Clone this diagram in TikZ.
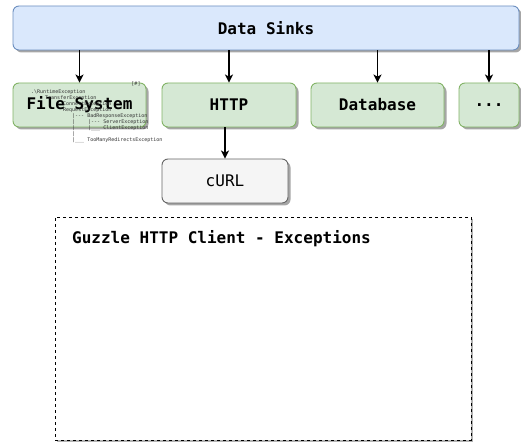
\documentclass[tikz,border=0pt]{standalone}
\usepackage{fontspec}
\newfontfamily\diagfont{DejaVu Sans Mono}
\usetikzlibrary{arrows.meta, positioning, shadows}

\definecolor{sinkfill}{HTML}{DAE8FC}
\definecolor{sinkline}{HTML}{6C8EBF}
\definecolor{kindfill}{HTML}{D5E8D4}
\definecolor{kindline}{HTML}{82B366}
\definecolor{curlfill}{HTML}{F5F5F5}
\definecolor{curlline}{HTML}{666666}

\begin{document}
\begin{tikzpicture}[
    x=1pt, y=-1pt,
    box/.style={rectangle, rounded corners=6pt, line width=0.9pt, minimum height=44pt,
        font=\diagfont\bfseries\fontsize{16}{18}\selectfont,
        drop shadow={shadow xshift=2.5pt, shadow yshift=-2.5pt, opacity=1, fill=black!35}},
    sink/.style={box, draw=sinkline, fill=sinkfill},
    kind/.style={box, draw=kindline, fill=kindfill},
    client/.style={box, draw=curlline, fill=curlfill, font=\diagfont\fontsize{16}{18}\selectfont},
    feed/.style={-{Stealth[length=8pt, width=8pt, inset=2pt]}, line width=1.3pt}
]
    \useasboundingbox (0,0) rectangle (521,443);

    \node[sink, minimum width=506pt] (sinks) at (266, 28) {Data Sinks};

    \node[kind, minimum width=133pt] (fs)   at (79.5, 105) {File System};
    \node[kind, minimum width=134pt] (http) at (229, 105)  {HTTP};
    \node[kind, minimum width=133pt] (db)   at (377.5, 105) {Database};
    \node[kind, minimum width=60pt]  (more) at (489, 105)  {...};

    \node[client, minimum width=126pt] (curl) at (225, 181) {cURL};

    % stray exception tree over the file system box
    \node[anchor=north west, inner sep=0pt, align=left, text=black!80,
          font=\diagfont\fontsize{5}{6}\selectfont] (tree) at (31, 90)
        {.\textbackslash RuntimeException\\
         \hspace*{14pt}TransferException\\
         \hspace*{32pt}ConnectException\\
         \hspace*{32pt}RequestException\\
         \hspace*{41pt}|--- BadResponseException\\
         \hspace*{41pt}|\hspace*{13pt}|--- ServerException\\
         \hspace*{41pt}|\hspace*{13pt}|\_\_\_ ClientException\\
         \hspace*{41pt}|\\
         \hspace*{41pt}|\_\_\_ TooManyRedirectsException};
    \node[anchor=center, inner sep=0pt, text=black!80,
          font=\diagfont\fontsize{5}{6}\selectfont] (mark) at (136, 84) {[\#]};

    \draw[feed] (fs.north |- sinks.south) -- (fs.north);
    \draw[feed] (http.north |- sinks.south) -- (http.north);
    \draw[feed] (db.north |- sinks.south) -- (db.north);
    \draw[feed] (more.north |- sinks.south) -- (more.north);
    \draw[feed] (http.south -| curl.north) -- (curl.north);

    \node[draw, dashed, fill=white, line width=0.9pt, minimum width=416pt, minimum height=223pt,
          drop shadow={shadow xshift=2pt, shadow yshift=-2pt, opacity=1, fill=black!30}] (exc) at (263, 328.5) {};
    \node[anchor=north west, inner sep=0pt, font=\diagfont\bfseries\fontsize{16}{18}\selectfont]
        (title) at (72, 230) {Guzzle HTTP Client - Exceptions};
\end{tikzpicture}
\end{document}
